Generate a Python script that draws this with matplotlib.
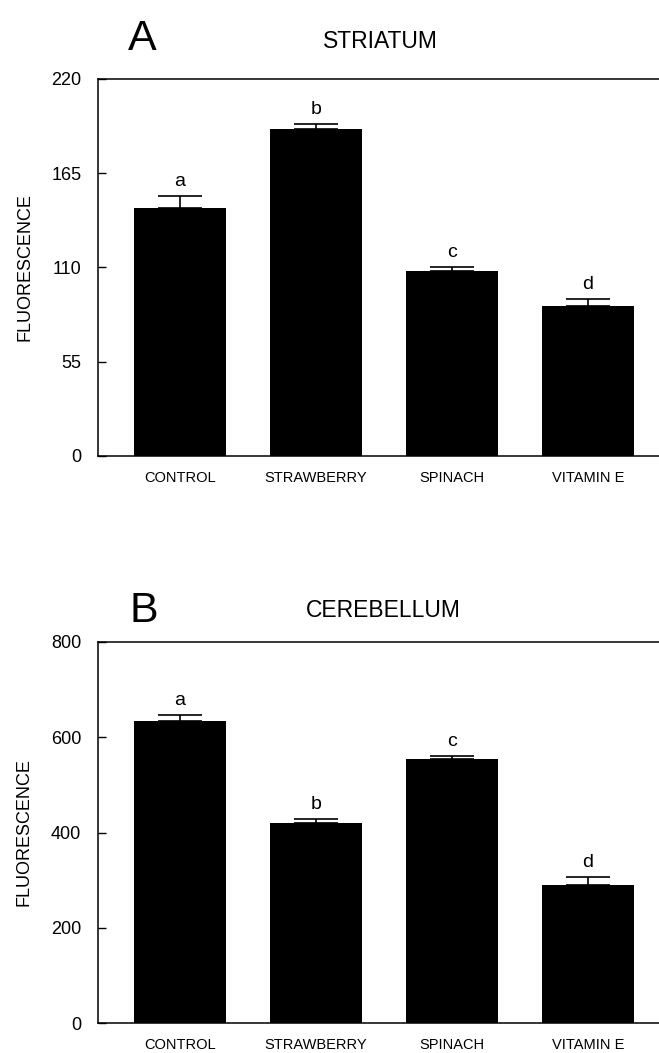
import numpy as np
import matplotlib
matplotlib.use("Agg")
import matplotlib.pyplot as plt

plt.rcParams['font.family'] = ['Liberation Sans', 'DejaVu Sans']

# Datos
grupos = ["CONTROL", "STRAWBERRY", "SPINACH", "VITAMIN E"]
grupos_b = ["CONTROL", "STRAWBERRY", "SPINACH", "VITAMIN E"]

striatum = [144.5, 191.0, 107.7, 87.8]
striatum_err = [7.0, 2.5, 2.3, 4.0]

cerebellum = [634, 420, 554, 289]
cerebellum_err = [13, 8, 7, 18]

letras = ["a", "b", "c", "d"]

W, H = 659, 1053

def fy(px):
    return 1 - px / H

# Dibuja un panel de barras
def panel(ax, valores, errores, ymax, ticks, etiquetas):
    x = np.arange(len(valores))
    ax.bar(x, valores, width=0.67, color="black", zorder=2)
    ax.errorbar(x, valores, yerr=[np.zeros(len(errores)), errores], fmt="none",
                ecolor="black", elinewidth=1.2, capsize=16, capthick=1.2, zorder=3)
    for xi, v, e, l in zip(x, valores, errores, letras):
        ax.text(xi, v + e + ymax * 0.016, l, ha="center", va="bottom", fontsize=14)
    ax.set_xlim(-0.603, 3.522)
    ax.set_ylim(0, ymax)
    ax.set_yticks(ticks)
    ax.set_xticks(x)
    ax.set_xticklabels(etiquetas, fontsize=10.5)
    ax.tick_params(axis="x", length=0, pad=11)
    ax.tick_params(axis="y", direction="in", length=6, width=1, labelsize=13, pad=12)
    ax.spines["right"].set_visible(False)
    for s in ["left", "bottom", "top"]:
        ax.spines[s].set_linewidth(1.1)
    ax.set_ylabel("FLUORESCENCE", fontsize=13, labelpad=13)

fig = plt.figure(figsize=(W / 100, H / 100), dpi=100)

ax1 = fig.add_axes([98 / W, fy(456), 1 - 98 / W, (456 - 79) / H])
panel(ax1, striatum, striatum_err, 220, [0, 55, 110, 165, 220], grupos)

ax2 = fig.add_axes([98 / W, fy(1023), 1 - 98 / W, (1023 - 642) / H])
panel(ax2, cerebellum, cerebellum_err, 800, [0, 200, 400, 600, 800], grupos_b)

fig.text(142 / W, fy(50), "A", fontsize=31, ha="center", va="baseline")
fig.text(380 / W, fy(48), "STRIATUM", fontsize=16.5, ha="center", va="baseline")
fig.text(144 / W, fy(622), "B", fontsize=31, ha="center", va="baseline")
fig.text(383 / W, fy(617), "CEREBELLUM", fontsize=16.5, ha="center", va="baseline")

fig.savefig("out.png", dpi=100)
